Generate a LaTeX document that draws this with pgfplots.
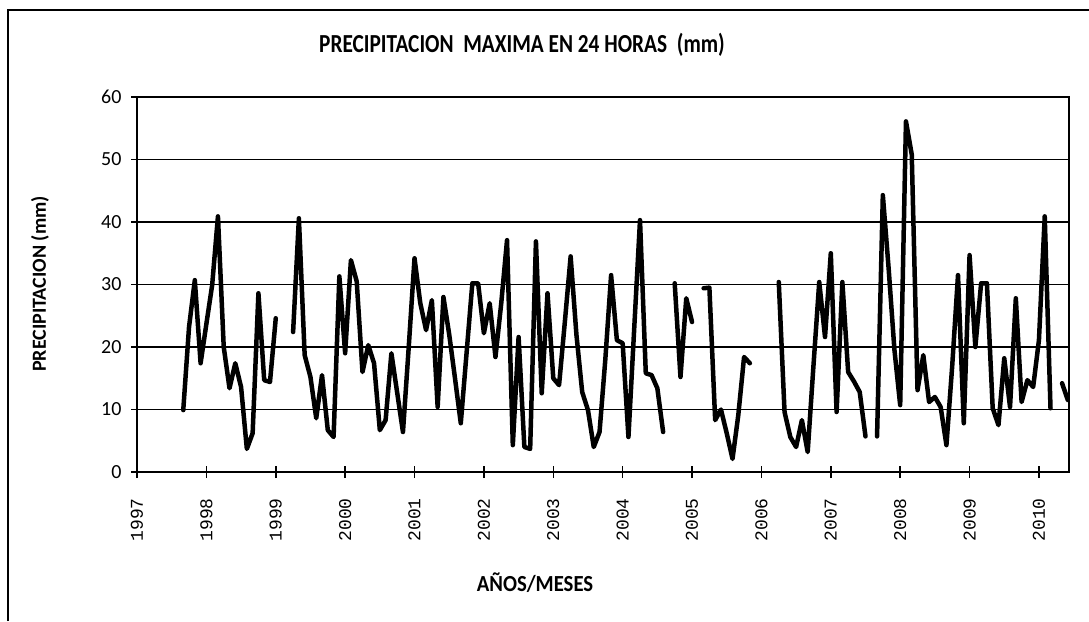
\documentclass[border=0pt]{standalone}
\usepackage{pgfplots}
\pgfplotsset{compat=1.18}
\usepackage{fontspec}
\setmainfont{Carlito}
\newfontfamily\monofont{Liberation Mono}

\pgfplotstableread{
m y
8 9.9
9 23.2
10 30.7
11 17.4
12 23.7
13 29.9
14 40.9
15 20.0
16 13.4
17 17.4
18 13.6
19 3.7
20 6.2
21 28.6
22 14.7
23 14.4
24 24.6
25 nan
27 22.4
28 40.6
29 18.7
30 15.2
31 8.6
32 15.5
33 6.7
34 5.6
35 31.3
36 19.0
37 33.9
38 30.5
39 16.0
40 20.3
41 17.4
42 6.7
43 8.3
44 19.0
45 12.7
46 6.4
47 20.0
48 34.2
49 27.0
50 22.7
51 27.5
52 10.4
53 28.0
54 22.0
55 15.0
56 7.8
57 19.0
58 30.2
59 30.2
60 22.2
61 27.0
62 18.4
63 27.0
64 37.1
65 4.3
66 21.6
67 4.0
68 3.7
69 36.9
70 12.6
71 28.6
72 15.0
73 13.9
74 24.0
75 34.5
76 22.0
77 12.8
78 9.9
79 4.0
80 6.4
81 18.0
82 31.5
83 21.1
84 20.6
85 5.6
86 23.0
87 40.3
88 15.8
89 15.5
90 13.4
91 6.4
92 nan
93 30.2
94 15.2
95 27.8
96 24.0
97 nan
98 29.4
99 29.5
100 8.3
101 10.0
102 6.2
103 2.1
104 9.1
105 18.4
106 17.4
107 nan
111 30.4
112 9.6
113 5.6
114 4.0
115 8.3
116 3.2
117 17.0
118 30.4
119 21.6
120 35.0
121 9.6
122 30.4
123 16.0
124 14.5
125 12.8
126 5.7
127 nan
128 5.7
129 44.3
130 32.6
131 19.6
132 10.7
133 56.1
134 50.8
135 13.1
136 18.7
137 11.2
138 12.0
139 10.4
140 4.3
141 17.0
142 31.5
143 7.8
144 34.7
145 20.0
146 30.2
147 30.2
148 10.2
149 7.5
150 18.2
151 10.4
152 27.8
153 11.2
154 14.7
155 13.6
156 21.1
157 40.9
158 10.2
159 nan
160 14.2
161 11.5
}\datatable

\begin{document}
\begin{tikzpicture}[x=1pt,y=1pt]
\useasboundingbox (0,0) rectangle (1089,-621);
\draw[line width=2pt] (8,-621) -- (8,-10) -- (1089,-10);
\node[font=\fontsize{26}{30}\selectfont\bfseries, xscale=0.82] at (522,-45) {PRECIPITACION\ \ MAXIMA EN 24 HORAS\ \ (mm)};
\node[font=\fontsize{23}{26}\selectfont\bfseries, xscale=0.9] at (535,-583) {AÑOS/MESES};
\node[font=\fontsize{20}{24}\selectfont\bfseries, rotate=90] at (40,-284) {PRECIPITACION (mm)};
\begin{axis}[
  at={(137pt,-472pt)}, anchor=south west,
  scale only axis, width=932pt, height=375pt,
  xmin=0, xmax=161.2, ymin=0, ymax=60,
  xtick={0,12,...,156},
  xticklabels={1997,1998,1999,2000,2001,2002,2003,2004,2005,2006,2007,2008,2009,2010},
  ytick={0,10,...,60},
  ymajorgrids, grid style={black, line width=1.3pt},
  axis line style={black, line width=1.5pt},
  major tick style={black, line width=1.5pt},
  tick pos=left, tick align=center, major tick length=12pt,
  xticklabel shift=20pt,
  /pgf/number format/assume math mode=true,
  yticklabel style={font=\fontsize{20}{22}\selectfont, xshift=-6pt},
  xticklabel style={font=\fontsize{18}{20}\selectfont\monofont, rotate=90, anchor=east, inner sep=0pt},
  unbounded coords=jump,
  clip=true,
]
\addplot[black, line width=4.5pt, line join=round, line cap=round] table[x=m, y=y] {\datatable};
\end{axis}
\end{tikzpicture}
\end{document}
